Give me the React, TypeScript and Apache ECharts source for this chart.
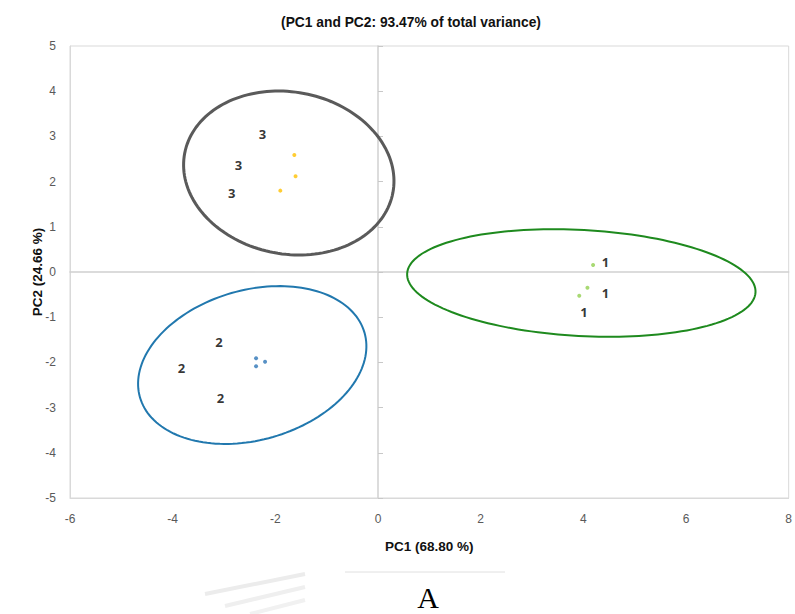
import React, { useEffect, useRef } from "react";
import * as echarts from "echarts";

// PC scores (PC1, PC2)
const group1Points = [
  [4.19, 0.155],
  [4.08, -0.347],
  [3.92, -0.524],
];
const group2Points = [
  [-2.375, -1.91],
  [-2.2, -1.985],
  [-2.375, -2.086],
];
const group3Points = [
  [-1.63, 2.59],
  [-1.606, 2.12],
  [-1.903, 1.8],
];

// Sample labels (PC1, PC2)
const group1Labels = [
  [4.43, 0.22],
  [4.43, -0.47],
  [4.01, -0.89],
];
const group2Labels = [
  [-3.1, -1.555],
  [-3.83, -2.13],
  [-3.07, -2.78],
];
const group3Labels = [
  [-2.25, 3.05],
  [-2.72, 2.37],
  [-2.85, 1.75],
];
const groupNames = ["1", "2", "3"];

// Confidence ellipses: centre PC1, centre PC2, semi-axis PC1, semi-axis PC2, rotation (deg)
const ellipseCenterX = [3.961, -2.45, -1.738];
const ellipseCenterY = [-0.243, -2.058, 2.19];
const ellipseRadiusX = [3.398, 2.276, 2.064];
const ellipseRadiusY = [1.173, 1.657, 1.792];
const ellipseRotation = [-3.1, 16.1, -10.7];

const xMin = -6;
const xMax = 8;
const xStep = 2;
const yMin = -5;
const yMax = 5;
const yStep = 1;

const pointColors = ["#92D050", "#2E75B6", "#FFC000"];
const ellipseColors = ["#1E8A1E", "#2178AE", "#5A5A5A"];
const ellipseWidths = [2, 2, 3];

export default function App() {
  const ref = useRef<HTMLDivElement>(null);

  useEffect(() => {
    if (!ref.current) return;
    const chart = echarts.init(ref.current, null, { renderer: "svg" });

    const ellipseData = ellipseCenterX.map((cx, i) => [
      cx,
      ellipseCenterY[i],
      ellipseRadiusX[i],
      ellipseRadiusY[i],
      ellipseRotation[i],
    ]);

    const labelSeries = (pts: number[][], name: string) => ({
      type: "scatter",
      data: pts,
      symbolSize: 1,
      itemStyle: { color: "rgba(255,255,255,0)" },
      silent: true,
      z: 5,
      label: {
        show: true,
        position: "inside",
        formatter: () => name,
        color: "#000",
        fontWeight: "bold",
        fontSize: 13,
        fontFamily: "Noto Sans, Open Sans, sans-serif",
      },
    });

    const axisLabelStyle = {
      color: "#595959",
      fontSize: 12,
      fontFamily: "Liberation Sans Narrow, Liberation Sans, Arial, sans-serif",
    };

    const nameStyle = {
      fontSize: 13.5,
      fontWeight: "bold",
      color: "#111",
      fontFamily: "Liberation Sans, Arial, sans-serif",
    };

    chart.setOption({
      animation: false,
      backgroundColor: "#ffffff",
      title: {
        text: "(PC1 and PC2: 93.47% of total variance)",
        left: 406,
        top: 10,
        textAlign: "center",
        textStyle: {
          fontSize: 13.8,
          fontWeight: "bold",
          color: "#111",
          fontFamily: "Liberation Sans, Arial, sans-serif",
        },
      },
      grid: {
        left: 70,
        right: 4,
        top: 46,
        bottom: 116,
        show: true,
        borderColor: "#d9d9d9",
        borderWidth: 1,
      },
      xAxis: [
        {
          type: "value",
          min: xMin,
          max: xMax,
          interval: xStep,
          position: "bottom",
          axisLine: { show: true, onZero: false, lineStyle: { color: "#d9d9d9" } },
          axisTick: { show: false },
          splitLine: { show: false },
          axisLabel: { ...axisLabelStyle, margin: 15 },
          name: "PC1 (68.80 %)",
          nameLocation: "middle",
          nameGap: 41,
          nameMoveOverlap: false,
          nameTextStyle: nameStyle,
        },
        {
          type: "value",
          min: xMin,
          max: xMax,
          interval: xStep,
          axisLine: { show: true, onZero: true, lineStyle: { color: "#d0d0d0", width: 1.5 } },
          axisTick: { show: false },
          splitLine: { show: false },
          axisLabel: { show: false },
        },
      ],
      yAxis: [
        {
          type: "value",
          min: yMin,
          max: yMax,
          interval: yStep,
          position: "left",
          axisLine: { show: true, onZero: false, lineStyle: { color: "#d9d9d9" } },
          axisTick: { show: false },
          splitLine: { show: false },
          axisLabel: { ...axisLabelStyle, margin: 14 },
          name: "PC2 (24.66 %)",
          nameLocation: "middle",
          nameGap: 26,
          nameMoveOverlap: false,
          nameRotate: 90,
          nameTextStyle: nameStyle,
        },
        {
          type: "value",
          min: yMin,
          max: yMax,
          interval: yStep,
          axisLine: { show: true, onZero: true, lineStyle: { color: "#d0d0d0", width: 1.5 } },
          axisTick: { show: true, inside: false, length: 5, lineStyle: { color: "#c8c8c8" } },
          splitLine: { show: false },
          axisLabel: { show: false },
        },
      ],
      series: [
        {
          type: "custom",
          coordinateSystem: "cartesian2d",
          data: ellipseData,
          encode: { x: 0, y: 1 },
          silent: true,
          z: 3,
          renderItem: (params: any, api: any) => {
            const c = api.coord([api.value(0), api.value(1)]);
            const s = api.size([api.value(2), api.value(3)]);
            const r = (api.value(4) * Math.PI) / 180;
            const pts: number[][] = [];
            const n = 160;
            for (let i = 0; i <= n; i++) {
              const t = (i / n) * Math.PI * 2;
              const ex = s[0] * Math.cos(t);
              const ey = s[1] * Math.sin(t);
              pts.push([
                c[0] + ex * Math.cos(r) + ey * Math.sin(r),
                c[1] - ex * Math.sin(r) + ey * Math.cos(r),
              ]);
            }
            return {
              type: "polygon",
              shape: { points: pts },
              style: {
                fill: "none",
                stroke: ellipseColors[params.dataIndex],
                lineWidth: ellipseWidths[params.dataIndex],
              },
            };
          },
        },
        { type: "scatter", data: group1Points, symbolSize: 4, itemStyle: { color: pointColors[0] }, z: 4 },
        { type: "scatter", data: group2Points, symbolSize: 4, itemStyle: { color: pointColors[1] }, z: 4 },
        { type: "scatter", data: group3Points, symbolSize: 4, itemStyle: { color: pointColors[2] }, z: 4 },
        labelSeries(group1Labels, groupNames[0]),
        labelSeries(group2Labels, groupNames[1]),
        labelSeries(group3Labels, groupNames[2]),
      ],
      graphic: [
        { type: "line", shape: { x1: 205, y1: 594, x2: 305, y2: 574 }, style: { stroke: "#ececec", lineWidth: 4 } },
        { type: "line", shape: { x1: 225, y1: 606, x2: 305, y2: 587 }, style: { stroke: "#efefef", lineWidth: 4 } },
        { type: "line", shape: { x1: 250, y1: 614, x2: 305, y2: 600 }, style: { stroke: "#f1f1f1", lineWidth: 4 } },
        { type: "line", shape: { x1: 345, y1: 572, x2: 505, y2: 572 }, style: { stroke: "#e0e0e0", lineWidth: 1 } },
        {
          type: "text",
          x: 428,
          y: 597,
          style: {
            text: "A",
            fontSize: 30,
            fontFamily: "Liberation Serif, DejaVu Serif, serif",
            fill: "#000",
            textAlign: "center",
            textVerticalAlign: "middle",
          },
        },
      ],
    });

    return () => chart.dispose();
  }, []);

  return (
    <div
      ref={ref}
      style={{ position: "absolute", left: 0, top: 0, width: 795, height: 614 }}
    />
  );
}
